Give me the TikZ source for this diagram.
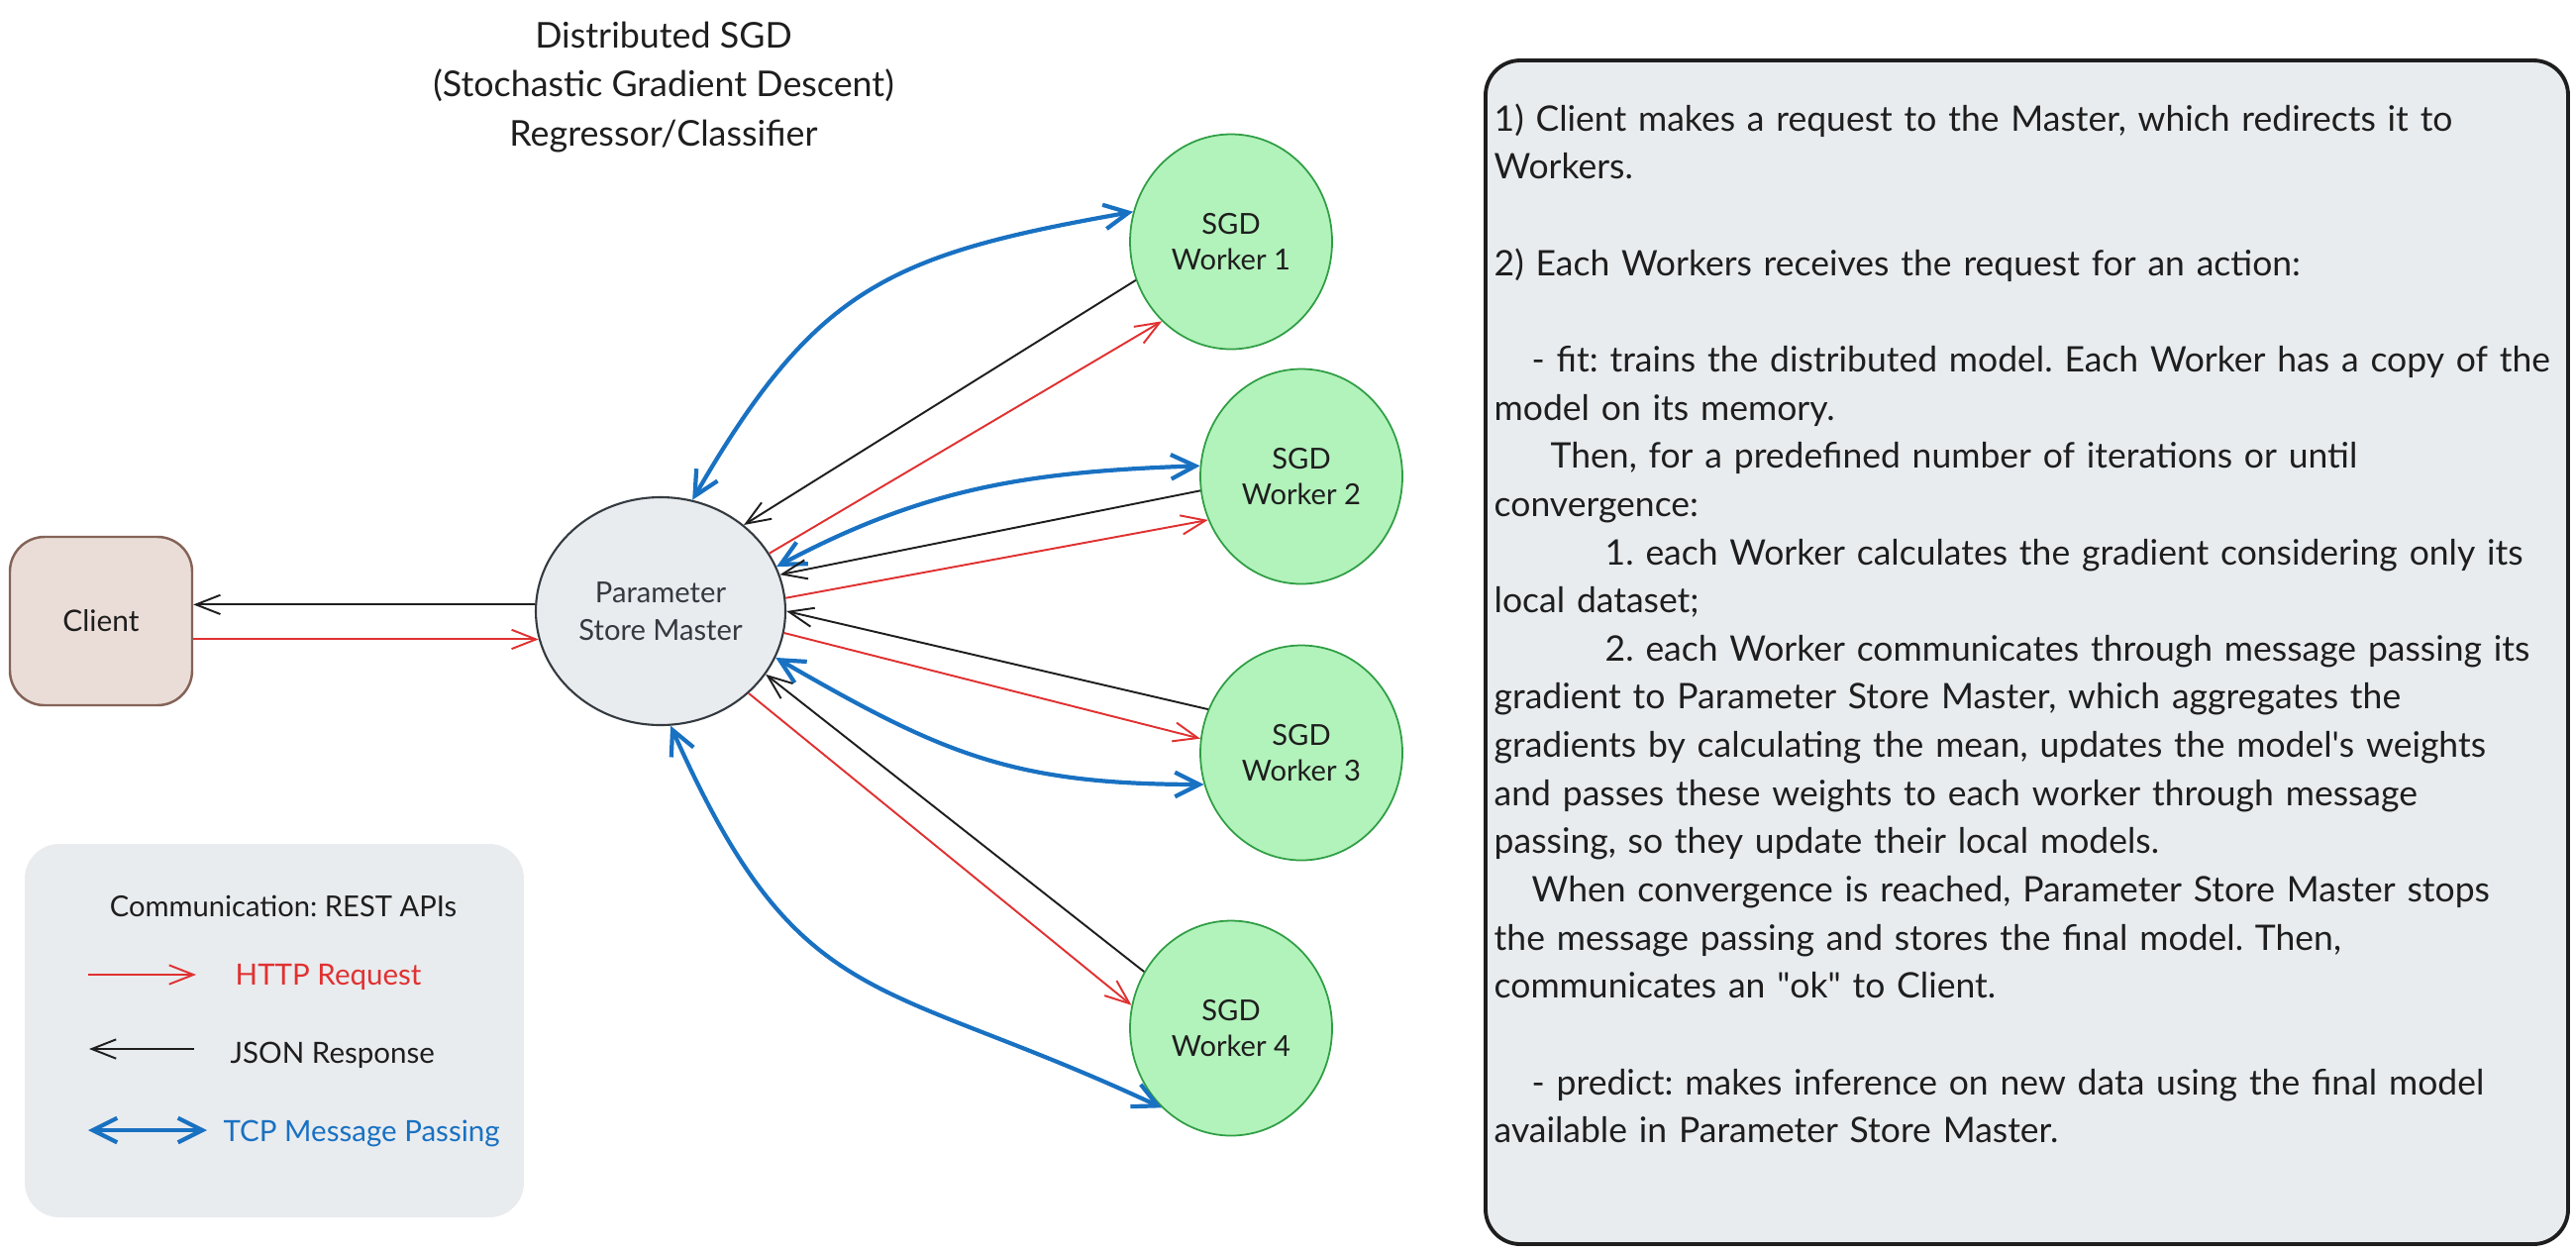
\documentclass[tikz,border=0pt]{standalone}
\usepackage{fontspec}
\setmainfont{Lato}
\usetikzlibrary{arrows.meta,shapes.geometric}
\definecolor{reqred}{HTML}{E03131}
\definecolor{respblack}{HTML}{1E1E1E}
\definecolor{tcpblue}{HTML}{1971C2}
\definecolor{workerfill}{HTML}{B2F2BB}
\definecolor{workerdraw}{HTML}{2F9E44}
\definecolor{masterfill}{HTML}{E9ECEF}
\definecolor{masterdraw}{HTML}{343A40}
\definecolor{clientfill}{HTML}{EADDD7}
\definecolor{clientdraw}{HTML}{846358}
\definecolor{panelfill}{HTML}{E9ECEF}
\frenchspacing

\begin{document}
\begin{tikzpicture}[x=0.1mm, y=0.1mm, text=respblack,
    worker/.style={ellipse, draw=workerdraw, fill=workerfill, line width=0.5pt,
        minimum width=20.4mm, minimum height=21.7mm, inner sep=0pt, align=center,
        font=\fontsize{8.3}{10.2}\selectfont},
    master/.style={ellipse, draw=masterdraw, fill=masterfill, line width=0.6pt,
        minimum width=25.2mm, minimum height=23mm, inner sep=0pt, align=center,
        text=masterdraw, font=\fontsize{8.3}{10.8}\selectfont},
    client/.style={rectangle, rounded corners=3.5mm, draw=clientdraw, fill=clientfill,
        line width=0.7pt, minimum width=18.4mm, minimum height=17mm,
        font=\fontsize{8.5}{10}\selectfont},
    req/.style={draw=reqred, line width=0.55pt, -{Straight Barb[length=7pt,width=5.5pt]}},
    resp/.style={draw=respblack, line width=0.55pt, -{Straight Barb[length=7pt,width=5.5pt]}},
    tcp/.style={draw=tcpblue, line width=1.2pt,
        {Straight Barb[length=7pt,width=7pt]}-{Straight Barb[length=7pt,width=7pt]}},
    legendtext/.style={anchor=base west, inner sep=0pt, font=\fontsize{8.4}{10}\selectfont},
    notetext/.style={anchor=north west, inner sep=0pt, text width=115mm, align=left,
        font=\fontsize{10.1}{13.84}\selectfont}]
    \useasboundingbox (0,0) rectangle (2601,-1265);

    \node [align=center, font=\fontsize{10.2}{14.2}\selectfont] (title) at (670,-88)
        {Distributed SGD\\(Stochastic Gradient Descent)\\Regressor/Classifier};

    \node [client] (client) at (102,-627) {Client};
    \node [master] (master) at (667,-617) {Parameter\\Store Master};
    \node [worker] (w1) at (1243,-244) {SGD\\Worker 1};
    \node [worker] (w2) at (1314,-481) {SGD\\Worker 2};
    \node [worker] (w3) at (1314,-760) {SGD\\Worker 3};
    \node [worker] (w4) at (1243,-1038) {SGD\\Worker 4};

    \draw [resp] (master.177) -- (master.177 -| client.east);
    \draw [req] (master.193 -| client.east) -- (master.193);

    \draw [tcp] (master.74) to [out=60, in=190, looseness=1.2] (w1.163);
    \draw [resp] (w1.202) -- (master.46);
    \draw [req] (master.28) -- (w1.229);

    \draw [tcp] (master.21) to [out=28, in=182] (w2.174);
    \draw [resp] (w2.188) -- (master.17);
    \draw [req] (master.6) -- (w2.205);

    \draw [resp] (w3.155) -- (master.0);
    \draw [req] (master.-10) -- (w3.172);
    \draw [tcp] (master.-22) to [out=-30, in=180, looseness=1.1] (w3.198);

    \draw [resp] (w4.147) -- (master.-31);
    \draw [req] (master.-43) -- (w4.167);
    \draw [tcp] (master.-85) to [out=-66, in=155, looseness=1.3] (w4.229);

    \fill [panelfill, rounded corners=3.5mm] (25,-852) rectangle (529,-1229);
    \node [font=\fontsize{8.3}{10}\selectfont] (legtitle) at (286,-915) {Communication: REST APIs};
    \coordinate (reqa) at (89,-984);
    \coordinate (reqb) at (198,-984);
    \draw [req] (reqa) -- (reqb);
    \node [legendtext, text=reqred] (reqlabel) at (237,-994) {HTTP Request};
    \coordinate (respa) at (196,-1059);
    \coordinate (respb) at (90,-1059);
    \draw [resp] (respa) -- (respb);
    \node [legendtext] (resplabel) at (232,-1073) {JSON Response};
    \coordinate (tcpa) at (89,-1141);
    \coordinate (tcpb) at (209,-1141);
    \draw [tcp] (tcpa) -- (tcpb);
    \node [legendtext, text=tcpblue] (tcplabel) at (225,-1152) {TCP Message Passing};

    \draw [draw=respblack, fill=panelfill, line width=1.1pt, rounded corners=3.5mm]
        (1500,-61) rectangle (2593,-1256);
    \node [notetext] (notes) at (1508,-104) {%
        1) Client makes a request to the Master, which redirects it to\\
        Workers.\\
        ~\\
        2) Each Workers receives the request for an action:\\
        ~\\
        \hspace*{3.8mm}- fit: trains the distributed model. Each Worker has a copy of the\\
        model on its memory.\\
        \hspace*{5.7mm}Then, for a predefined number of iterations or until\\
        convergence:\\
        \hspace*{11.2mm}1. each Worker calculates the gradient considering only its\\
        local dataset;\\
        \hspace*{11.2mm}2. each Worker communicates through message passing its\\
        gradient to Parameter Store Master, which aggregates the\\
        gradients by calculating the mean, updates the model\textquotesingle s weights\\
        and passes these weights to each worker through message\\
        passing, so they update their local models.\\
        \hspace*{3.8mm}When convergence is reached, Parameter Store Master stops\\
        the message passing and stores the final model. Then,\\
        communicates an \textquotedbl ok\textquotedbl{} to Client.\\
        ~\\
        \hspace*{3.8mm}- predict: makes inference on new data using the final model\\
        available in Parameter Store Master.};
\end{tikzpicture}
\end{document}
